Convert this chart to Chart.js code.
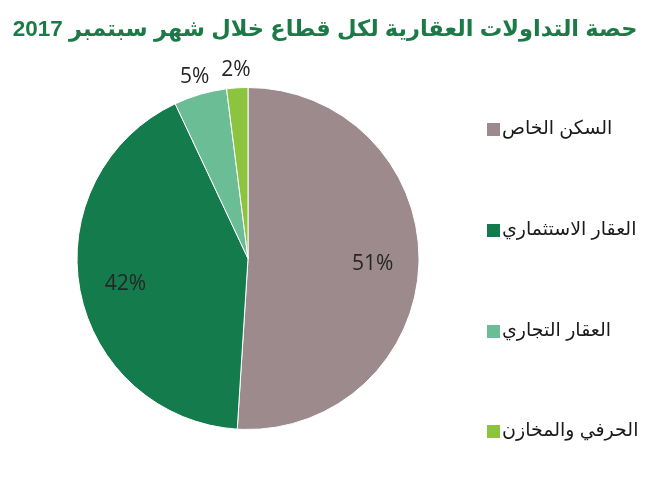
<!DOCTYPE html>
<html>
<head>
<meta charset="utf-8">
<script src="https://cdn.jsdelivr.net/npm/chart.js@4.4.0/dist/chart.umd.min.js"></script>
<style>
html,body{margin:0;padding:0;background:#fff;}
#wrap{position:relative;width:658px;height:500px;}
</style>
</head>
<body>
<div id="wrap"><canvas id="c" width="658" height="500"></canvas></div>
<script>
const titleText = 'حصة التداولات العقارية لكل قطاع خلال شهر سبتمبر 2017';
const categories = ['السكن الخاص', 'العقار الاستثماري', 'العقار التجاري', 'الحرفي والمخازن'];
const shares = [51, 42, 5, 2];
const sliceColors = ['#9D8A8D', '#147B4C', '#6BBD95', '#8CC43F'];

const ARFONT = "Arial, 'Liberation Sans', 'DejaVu Sans', sans-serif";

const drawExtras = {
  id: 'drawExtras',
  afterDraw(chart) {
    const ctx = chart.ctx;
    ctx.save();
    // title
    ctx.fillStyle = '#1B7A46';
    ctx.font = "bold 22.5px " + ARFONT;
    ctx.textAlign = 'center';
    ctx.textBaseline = 'middle';
    ctx.direction = 'rtl';
    ctx.fillText(titleText, 325, 30);
    ctx.direction = 'ltr';

    // value labels
    const meta = chart.getDatasetMeta(0);
    ctx.fillStyle = '#262626';
    ctx.font = "21px 'Open Sans', 'Liberation Sans', sans-serif";
    meta.data.forEach((arc, i) => {
      const mid = (arc.startAngle + arc.endAngle) / 2;
      const r = shares[i] >= 10 ? arc.outerRadius * 0.73 : arc.outerRadius + 20;
      const x = arc.x + Math.cos(mid) * r;
      const y = arc.y + Math.sin(mid) * r + 2;
      ctx.fillText(shares[i] + '%', x, y);
    });

    // legend
    const legY = [129, 230, 331, 431];
    ctx.font = "19px " + ARFONT;
    categories.forEach((lab, i) => {
      ctx.fillStyle = sliceColors[i];
      ctx.fillRect(487, legY[i] - 6, 13, 13);
      ctx.fillStyle = '#1a1a1a';
      ctx.direction = 'rtl';
      ctx.textAlign = 'right';
      const w = ctx.measureText(lab).width;
      ctx.fillText(lab, 502 + w, legY[i]);
      ctx.direction = 'ltr';
      ctx.textAlign = 'left';
    });
    ctx.restore();
  }
};

new Chart(document.getElementById('c'), {
  type: 'pie',
  data: {
    labels: categories,
    datasets: [{
      data: shares,
      backgroundColor: sliceColors,
      borderColor: '#ffffff',
      borderWidth: 1
    }]
  },
  options: {
    responsive: false,
    animation: false,
    layout: { padding: { left: 76, right: 238, top: 87, bottom: 70 } },
    plugins: {
      legend: { display: false },
      title: { display: false },
      tooltip: { enabled: false }
    }
  },
  plugins: [drawExtras]
});
</script>
</body>
</html>
